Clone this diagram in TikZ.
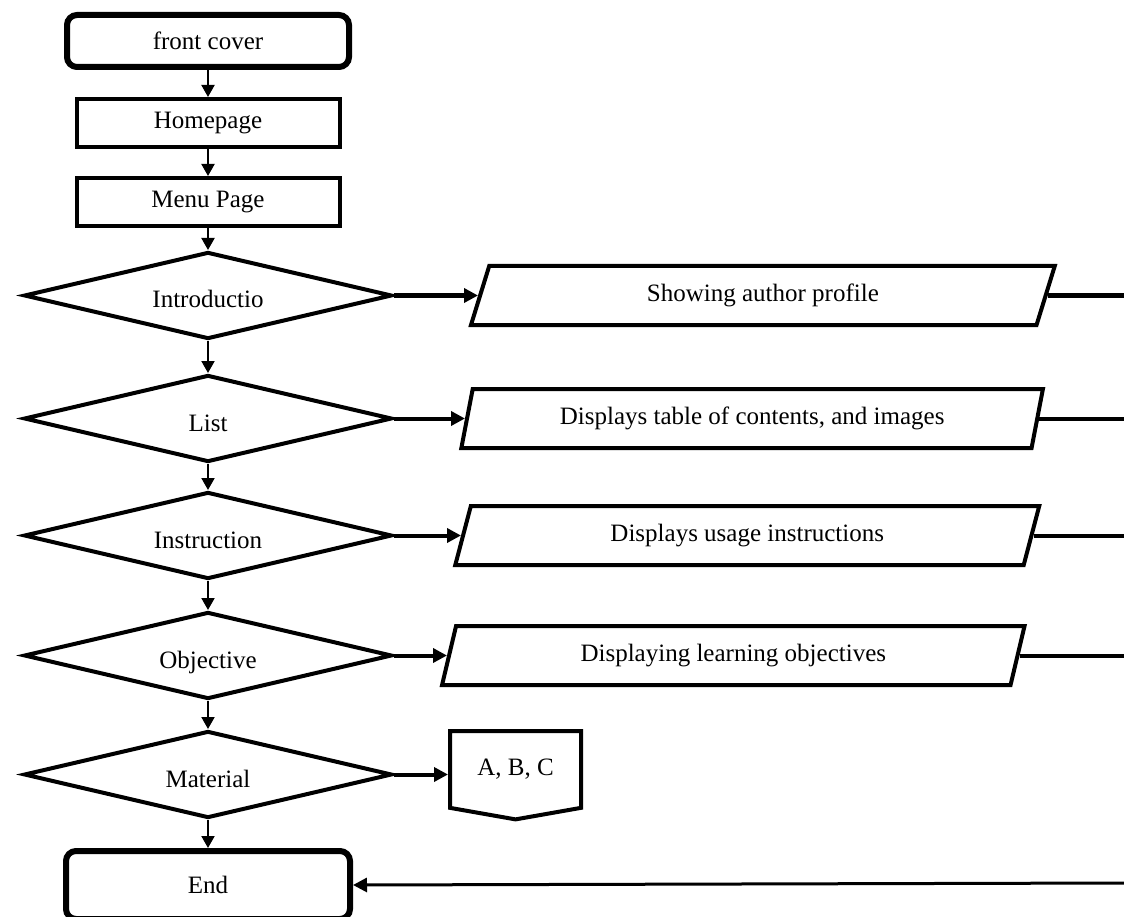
\documentclass[tikz,border=0pt]{standalone}
\usepackage{fontspec}
\setmainfont{Liberation Serif}
\usetikzlibrary{positioning, arrows.meta, shapes.geometric, shapes.symbols}

\begin{document}
\begin{tikzpicture}[
    x=1pt, y=-1pt,
    node distance=27pt,
    every node/.style={font=\fontsize{25}{30}\selectfont},
    termbox/.style={draw, line width=6pt, rounded corners=10pt,
                    minimum width=282pt, minimum height=52pt},
    pagebox/.style={draw, line width=4pt, minimum width=263pt,
                    minimum height=48pt},
    choice/.style={draw, diamond, aspect=4.2, line width=4pt, inner sep=0pt,
                   text height=25pt, text depth=0pt,
                   minimum width=368pt, minimum height=87pt},
    showbox/.style={draw, trapezium, trapezium left angle=75,
                    trapezium right angle=105, trapezium stretches=true,
                    line width=4pt, minimum width=585pt, minimum height=59pt},
    jump/.style={draw, signal, signal to=south, signal pointer angle=160,
                 line width=4pt, minimum width=131pt, minimum height=84pt},
    arrow/.style={-{Triangle[length=12pt, width=13pt]}, line width=2pt},
    flow/.style={-{Triangle[length=14pt, width=14pt]}, line width=4pt},
    link/.style={line width=4pt},
]
\useasboundingbox (0,0) rectangle (1124,917);

% main column
\node[termbox] (front) at (208,41) {front cover};
\node[pagebox, below=of front] (home) {Homepage};
\node[pagebox, below=of home] (menu) {Menu Page};
\node[choice, below=22pt of menu] (intro) {Introductio};
\node[choice, below=32pt of intro] (list) {List};
\node[choice, below=26pt of list] (instr) {Instruction};
\node[choice, below=29pt of instr] (obj) {Objective};
\node[choice, below=28pt of obj] (mat) {Material};
\node[termbox, below=28pt of mat, minimum width=284pt,
      minimum height=68pt] (end) {End};

% what each choice shows
\node[showbox, right=84pt of intro] (author) {Showing author profile};
\node[showbox, right=71pt of list] (contents) {Displays table of contents, and images};
\node[showbox, right=67pt of instr] (usage) {Displays usage instructions};
\node[showbox, right=53pt of obj] (goals) {Displaying learning objectives};
\node[jump, right=54pt of mat, yshift=5pt] (parts) {A, B, C};

\coordinate (rim) at (1124,0);
\coordinate (back) at (1124,883);

\draw[arrow] (front) -- (home);
\draw[arrow] (home) -- (menu);
\draw[arrow] (menu) -- (intro);
\draw[arrow] (intro) -- (list);
\draw[arrow] (list) -- (instr);
\draw[arrow] (instr) -- (obj);
\draw[arrow] (obj) -- (mat);
\draw[arrow] (mat) -- (end);

\draw[flow] (intro.east) -- (author.west);
\draw[flow] (list.east) -- (contents.west);
\draw[flow] (instr.east) -- (usage.west);
\draw[flow] (obj.east) -- (goals.west);
\draw[flow] (mat.east) -- (parts.west |- mat.east);

\draw[link] (author.east) -- (author.east -| rim);
\draw[link] (contents.east) -- (contents.east -| rim);
\draw[link] (usage.east) -- (usage.east -| rim);
\draw[link] (goals.east) -- (goals.east -| rim);
\draw[flow, line width=3pt] (back) -- (end.east);
\end{tikzpicture}
\end{document}
